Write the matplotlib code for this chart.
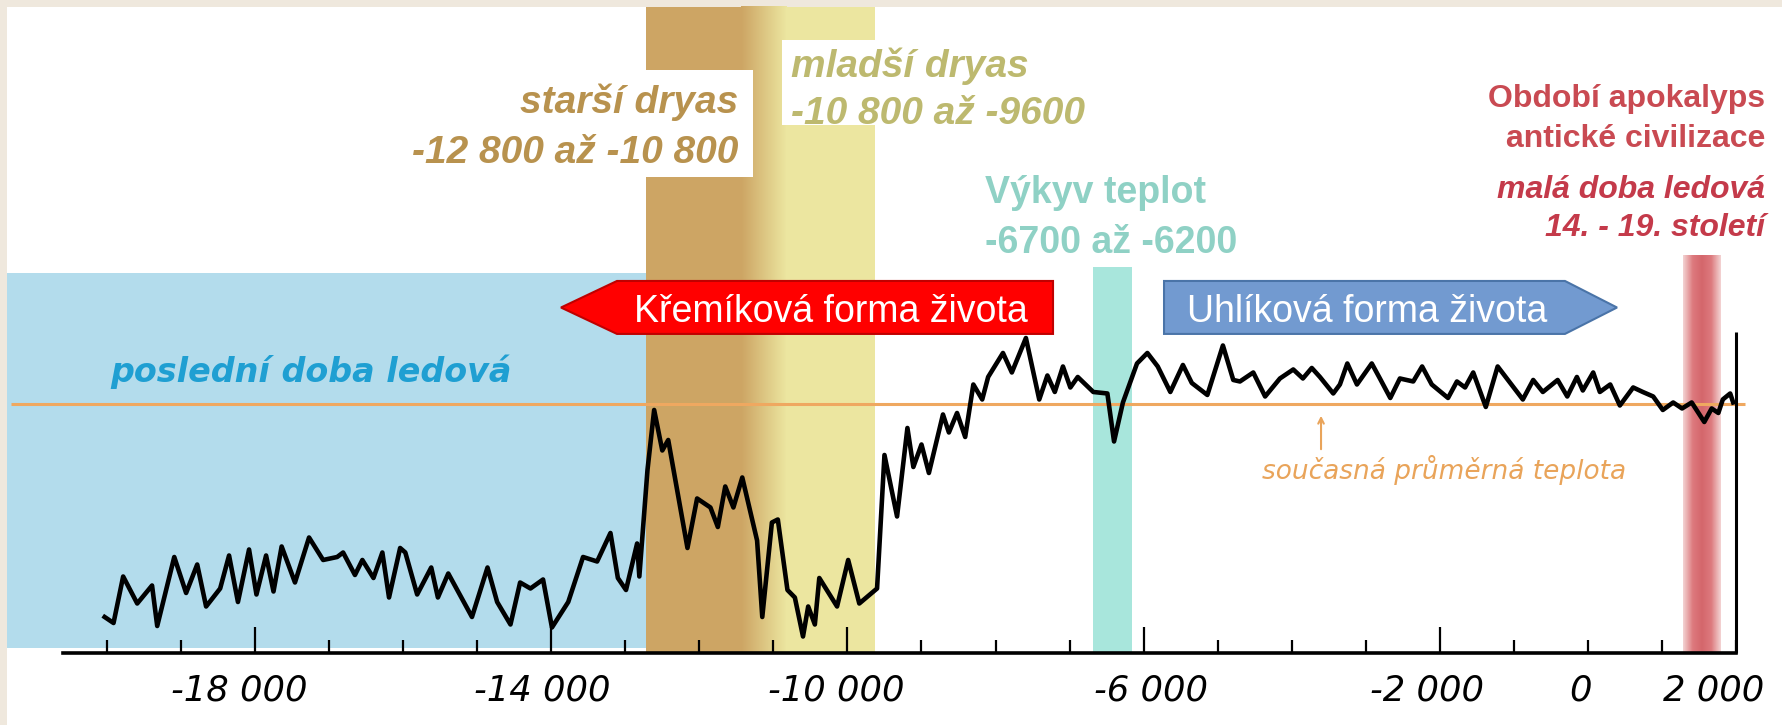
import matplotlib.pyplot as plt
import numpy as np
from matplotlib.patches import Polygon, Rectangle
from matplotlib.colors import LinearSegmentedColormap
from matplotlib.transforms import ScaledTranslation

plt.rcParams['font.family'] = ['Liberation Sans', 'DejaVu Sans']

# temperature record: year, deg C relative to today
years = [-20030, -19910, -19780, -19590, -19390, -19320, -19090, -18930, -18780, -18660,
         -18470, -18350, -18230, -18080, -17980, -17850, -17750, -17640, -17460, -17270,
         -17080, -16890, -16810, -16650, -16550, -16400,
         -16280, -16190, -16040, -15970, -15810, -15620, -15530, -15390, -15070, -14860,
         -14730, -14550, -14420, -14280, -14110, -13990, -13770, -13570, -13380, -13200,
         -13100, -12990, -12840, -12810, -12700, -12610, -12500, -12420,
         -12160, -12030, -11850, -11750, -11650, -11540, -11420, -11220, -11150, -11020,
         -10940, -10810, -10710, -10600, -10530, -10440, -10380, -10140, -9990, -9840,
         -9600, -9500, -9330, -9190, -9110, -9000, -8900, -8710, -8630, -8520,
         -8410, -8300, -8180, -8100, -7900, -7780, -7590, -7410, -7300, -7200,
         -7090, -6990, -6890, -6680, -6490, -6400, -6280, -6090, -5950, -5810,
         -5640, -5470, -5350, -5140, -4930, -4790,
         -4700, -4520, -4360, -4160, -3980, -3850, -3730, -3620, -3440, -3350,
         -3250, -3120, -2920, -2810, -2670, -2540, -2360, -2240, -2110, -1890,
         -1770, -1660, -1550, -1380, -1220, -1050, -880, -740,
         -610, -410, -280, -150, -70, 70, 160, 300, 430, 610,
         740, 880, 1010, 1150, 1270, 1400, 1570, 1670, 1760, 1820, 1920, 1960]
temp = [-14.2, -14.6, -11.5, -13.3, -12.1, -14.8, -10.2, -12.6, -10.7, -13.5,
        -12.3, -10.1, -13.2, -9.7, -12.7, -10.1, -12.5, -9.5, -11.9, -8.9,
        -10.4, -10.2, -9.9, -11.4, -10.4, -11.6,
        -9.9, -12.9, -9.6, -9.9, -12.7, -10.9, -12.9, -11.3, -14.2, -10.9,
        -13.2, -14.7, -11.9, -12.3, -11.7, -14.9, -13.2, -10.2, -10.5, -8.6,
        -11.6, -12.4, -9.3, -11.5, -4.4, -0.4, -3.1, -2.4,
        -9.6, -6.3, -6.9, -8.2, -5.5, -6.9, -4.9, -9.1, -14.2, -7.9,
        -7.7, -12.4, -12.9, -15.5, -13.5, -14.7, -11.6, -13.5, -10.4, -13.3,
        -12.3, -3.4, -7.5, -1.6, -4.2, -2.7, -4.6, -0.7, -1.9, -0.6,
        -2.2, 1.3, 0.3, 1.8, 3.4, 2.1, 4.4, 0.3, 1.9, 0.8,
        2.5, 1.1, 1.8, 0.8, 0.7, -2.5, 0.1, 2.7, 3.4, 2.5,
        0.8, 2.6, 1.4, 0.6, 3.9, 1.6,
        1.5, 2.1, 0.5, 1.7, 2.3, 1.7, 2.4, 1.8, 0.7, 1.3,
        2.7, 1.3, 2.7, 1.7, 0.4, 1.7, 1.5, 2.5, 1.3, 0.4,
        1.5, 1.1, 2.1, -0.2, 2.5, 1.4, 0.3, 1.6,
        0.8, 1.6, 0.5, 1.8, 0.9, 2.1, 0.8, 1.3, -0.1, 1.1,
        0.8, 0.5, -0.4, 0.1, -0.3, 0.1, -1.2, -0.3, -0.6, 0.3, 0.7, 0.1]

# periods shown as coloured bands (years)
ice_age = (-21350, -12720)
older_dryas = (-12720, -11440)
dryas_blend = (-11440, -10830)
younger_dryas = (-10830, -9630)
temp_swing = (-6680, -6160)
little_ice_age = (1280, 1780)

major_ticks = [-18000, -14000, -10000, -6000, -2000]
major_labels = ['-18 000', '-14 000', '-10 000', '-6 000', '-2 000']
extra_labels = {0: '0', 2000: '2 000'}
# labels in the picture sit a little off their ticks (pixels)
label_shift = {-18000: -16, -14000: -9, -10000: -11, -6000: 7, -2000: -13, 0: -8, 2000: -22}

axis_y = -16.6
top_y = 26.47

fig = plt.figure(figsize=(17.83, 7.25), dpi=100)
fig.patch.set_facecolor('#efe8dd')
fig.add_artist(Rectangle((7 / 1783, 0), 1, 718 / 725, transform=fig.transFigure,
                         facecolor='white', lw=0, zorder=-1))
ax = fig.add_axes([0, 0, 1, 1])
ax.patch.set_visible(False)

# background bands
ax.fill_between(ice_age, -16.3, 8.73, color='#b3dcec', lw=0, zorder=0.5)
ax.fill_between(older_dryas, axis_y, top_y, color='#cda564', lw=0, zorder=0.6)
ax.imshow(np.linspace(0, 1, 64)[None, :], aspect='auto', interpolation='bilinear',
          cmap=LinearSegmentedColormap.from_list('dry', ['#cda564', '#ece6a0']),
          extent=(dryas_blend[0], dryas_blend[1], axis_y, top_y), zorder=0.6)
ax.fill_between(younger_dryas, axis_y, top_y, color='#ece6a0', lw=0, zorder=0.6)
ax.fill_between(temp_swing, axis_y, 9.13, color='#a8e6dc', lw=0, zorder=0.6)
ax.imshow(np.linspace(0, 1, 64)[None, :], aspect='auto', interpolation='bilinear',
          cmap=LinearSegmentedColormap.from_list(
              'lia', ['#f3d2d2', '#dd7a7e', '#d4666b', '#dd7a7e', '#f3d2d2']),
          extent=(little_ice_age[0], little_ice_age[1], axis_y, 9.93), zorder=0.6)

# white boxes behind the dryas labels
ax.add_patch(Rectangle((-16310, 15.13), 5035, 7.14, facecolor='white', lw=0, zorder=0.8))
ax.add_patch(Rectangle((-10880, 18.6), 4300, 5.67, facecolor='white', lw=0, zorder=0.8))

# present mean temperature and the record
ax.hlines(0, -21290, 2120, color='#efa860', lw=2.2, zorder=2)
ax.plot(years, temp, color='black', lw=3.3, zorder=3, solid_joinstyle='round')
ax.vlines(2000, axis_y, 4.8, color='black', lw=2.2, zorder=3)

# x axis
for side in ['top', 'left', 'right']:
    ax.spines[side].set_visible(False)
ax.spines['bottom'].set_position(('data', axis_y))
ax.spines['bottom'].set_bounds(-20590, 2000)
ax.spines['bottom'].set_linewidth(2.6)
ax.set_yticks([])
tick_font = dict(fontfamily='DejaVu Sans', fontstyle='italic', fontsize=25.5)
ax.set_xticks(major_ticks, labels=major_labels, **tick_font)
minor = [y for y in range(-20000, 2001, 1000) if y not in major_ticks]
ax.set_xticks(minor, labels=[extra_labels.get(y, '') for y in minor], minor=True, **tick_font)
ax.tick_params(axis='x', which='major', direction='in', length=18.5, width=1.6, pad=15)
ax.tick_params(axis='x', which='minor', direction='in', length=9.5, width=1.6, pad=15)
for ticks, locs in [(ax.xaxis.get_major_ticks(), major_ticks),
                    (ax.xaxis.get_minor_ticks(), minor)]:
    for tick, loc in zip(ticks, locs):
        dx = label_shift.get(loc, 0) / 100
        tick.label1.set_transform(tick.label1.get_transform()
                                  + ScaledTranslation(dx, 0, fig.dpi_scale_trans))

# labels
ax.text(-11478, 19.4, 'starší dryas', ha='right', fontsize=28, fontweight='bold',
        fontstyle='italic', color='#b8924e', zorder=5)
ax.text(-11478, 16.07, '-12 800 až -10 800', ha='right', fontsize=28, fontweight='bold',
        fontstyle='italic', color='#b8924e', zorder=5)
ax.text(-10762, 21.8, 'mladší dryas', fontsize=28, fontweight='bold',
        fontstyle='italic', color='#bdb96f', zorder=5)
ax.text(-10762, 18.67, '-10 800 až -9600', fontsize=28, fontweight='bold',
        fontstyle='italic', color='#bdb96f', zorder=5)
ax.text(-8142, 13.4, 'Výkyv teplot', fontsize=27, fontweight='bold', color='#8fd1c5', zorder=5)
ax.text(-8142, 10.07, '-6700 až -6200', fontsize=27, fontweight='bold', color='#8fd1c5', zorder=5)
ax.text(2390, 19.8, 'Období apokalyps', ha='right', fontsize=23, fontweight='bold',
        color='#c94a52', zorder=5)
ax.text(2390, 17.13, 'antické civilizace', ha='right', fontsize=23, fontweight='bold',
        color='#c94a52', zorder=5)
ax.text(2390, 13.73, 'malá doba ledová', ha='right', fontsize=23, fontweight='bold',
        fontstyle='italic', color='#c43a4a', zorder=5)
ax.text(2390, 11.2, '14. - 19. století', ha='right', fontsize=23, fontweight='bold',
        fontstyle='italic', color='#c43a4a', zorder=5)
ax.text(-19957, 1.47, 'poslední doba ledová', fontfamily='DejaVu Sans', fontsize=24,
        fontweight='bold', fontstyle='italic', color='#1f9fd2', zorder=5)
ax.text(-1944, -5.0, 'současná průměrná teplota', ha='center', fontfamily='DejaVu Sans',
        fontsize=19, fontstyle='italic', color='#e9a45a', zorder=5)
ax.annotate('', xy=(-3605, -0.6), xytext=(-3605, -3.2),
            arrowprops=dict(arrowstyle='->', color='#e9a45a', lw=1.5), zorder=5)

# life-form arrows
ax.add_patch(Polygon([(-13868, 6.43), (-13112, 8.2), (-7224, 8.2), (-7224, 4.67), (-13112, 4.67)],
                     closed=True, facecolor='#ff0000', edgecolor='#c00000', lw=1.5, zorder=4))
ax.add_patch(Polygon([(-5725, 8.2), (-311, 8.2), (392, 6.43), (-311, 4.67), (-5725, 4.67)],
                     closed=True, facecolor='#729ad0', edgecolor='#4a74a8', lw=1.5, zorder=4))
ax.text(-10222, 5.47, 'Křemíková forma života', ha='center', fontsize=27, color='white', zorder=5)
ax.text(-2984, 5.47, 'Uhlíková forma života', ha='center', fontsize=27, color='white', zorder=5)

ax.set_xlim(-21443, 2633)
ax.set_ylim(-21.4, 26.93)

fig.savefig('out.png', dpi=100)
